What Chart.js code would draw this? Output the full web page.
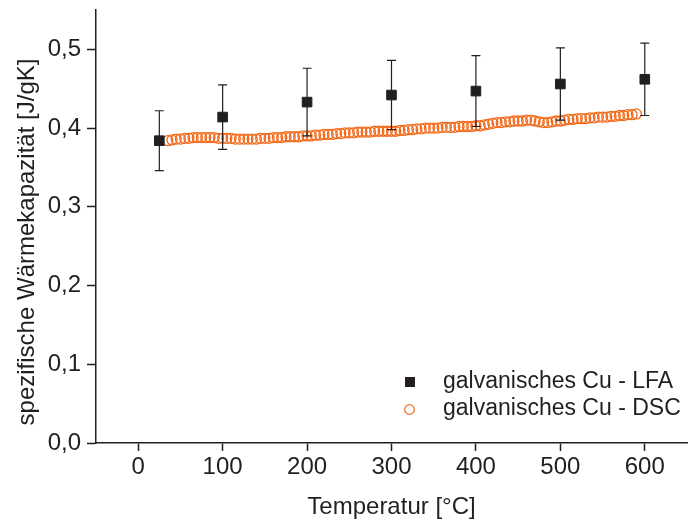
<!DOCTYPE html>
<html>
<head>
<meta charset="utf-8">
<script src="https://cdn.jsdelivr.net/npm/chart.js@4.4.1/dist/chart.umd.min.js"></script>
<style>
  html, body { margin: 0; padding: 0; background: #ffffff; }
  #wrap { width: 689px; height: 522px; position: relative; }
</style>
</head>
<body>
<div id="wrap"><canvas id="c" width="689" height="522"></canvas></div>
<script>
// LFA measurements (temperature in °C, specific heat in J/gK, error bar half-width)
const lfaTemps  = [25, 100, 200, 300, 400, 500, 600];
const lfaValues = [0.384, 0.414, 0.433, 0.442, 0.447, 0.456, 0.462];
const lfaErrors = [0.038, 0.041, 0.043, 0.044, 0.045, 0.046, 0.046];

// DSC scan
const dscTemps = [
  35, 40, 45, 50, 55, 60, 65, 70, 75, 80, 85, 90, 95, 100, 105, 110, 115, 120, 125, 130,
  135, 140, 145, 150, 155, 160, 165, 170, 175, 180, 185, 190, 195, 200, 205, 210, 215, 220, 225, 230,
  235, 240, 245, 250, 255, 260, 265, 270, 275, 280, 285, 290, 295, 300, 305, 310, 315, 320, 325, 330,
  335, 340, 345, 350, 355, 360, 365, 370, 375, 380, 385, 390, 395, 400, 405, 410, 415, 420, 425, 430,
  435, 440, 445, 450, 455, 460, 465, 470, 475, 480, 485, 490, 495, 500, 505, 510, 515, 520, 525, 530,
  535, 540, 545, 550, 555, 560, 565, 570, 575, 580, 585, 590
];
const dscValues = [
  0.384, 0.385, 0.386, 0.386, 0.387, 0.387, 0.388, 0.388, 0.388, 0.388, 0.388, 0.388, 0.387, 0.387, 0.387, 0.387, 0.386, 0.386, 0.386, 0.386,
  0.386, 0.386, 0.387, 0.387, 0.387, 0.388, 0.388, 0.388, 0.389, 0.389, 0.389, 0.389, 0.390, 0.390, 0.390, 0.391, 0.391, 0.392, 0.392, 0.392,
  0.393, 0.393, 0.394, 0.394, 0.394, 0.395, 0.395, 0.395, 0.395, 0.396, 0.396, 0.396, 0.396, 0.396, 0.396, 0.397, 0.397, 0.398, 0.398, 0.399,
  0.399, 0.400, 0.400, 0.400, 0.400, 0.401, 0.401, 0.401, 0.401, 0.402, 0.402, 0.402, 0.402, 0.403, 0.403, 0.404, 0.405, 0.406, 0.407, 0.407,
  0.408, 0.408, 0.409, 0.409, 0.409, 0.410, 0.410, 0.409, 0.408, 0.407, 0.407, 0.408, 0.409, 0.409, 0.410, 0.411, 0.411, 0.412, 0.412, 0.412,
  0.413, 0.413, 0.414, 0.414, 0.414, 0.415, 0.415, 0.416, 0.416, 0.417, 0.417, 0.418
];

const xTitle = 'Temperatur [°C]';
const yTitle = 'spezifische Wärmekapazität [J/gK]';
const lfaLabel = 'galvanisches Cu - LFA';
const dscLabel = 'galvanisches Cu - DSC';

const INK = '#231f20';
const ORANGE = '#f26a1b';
const FONT = '"Liberation Sans", Arial, Helvetica, sans-serif';

const isMultiple = (v, step) => Math.abs(v / step - Math.round(v / step)) < 1e-6;

// fixed axis box sizes, no extra label padding around the plot area
function fixBox(size) {
  return s => {
    if (s.isHorizontal()) s.height = size; else s.width = size;
    s.paddingTop = 0; s.paddingBottom = 0; s.paddingLeft = 0; s.paddingRight = 0;
  };
}

// error bars, minor ticks, axis titles and the in-plot legend
const extras = {
  id: 'extras',
  afterDatasetsDraw(chart) {
    const ctx = chart.ctx, xs = chart.scales.x, ys = chart.scales.y;
    ctx.save();
    ctx.strokeStyle = INK;
    ctx.lineWidth = 1.2;
    lfaTemps.forEach((t, i) => {
      const px = xs.getPixelForValue(t);
      const top = ys.getPixelForValue(lfaValues[i] + lfaErrors[i]);
      const bot = ys.getPixelForValue(lfaValues[i] - lfaErrors[i]);
      ctx.beginPath();
      ctx.moveTo(px, top); ctx.lineTo(px, bot);
      ctx.moveTo(px - 4.5, top); ctx.lineTo(px + 4.5, top);
      ctx.moveTo(px - 4.5, bot); ctx.lineTo(px + 4.5, bot);
      ctx.stroke();
    });
    ctx.restore();
  },
  afterDraw(chart) {
    const ctx = chart.ctx, xs = chart.scales.x, ys = chart.scales.y, a = chart.chartArea;
    ctx.save();
    // minor ticks
    ctx.strokeStyle = INK;
    ctx.lineWidth = 1.5;
    ctx.beginPath();
    xs.ticks.forEach(t => {
      if (t.label == null) {
        const px = Math.round(xs.getPixelForValue(t.value)) + 0.5;
        ctx.moveTo(px, a.bottom); ctx.lineTo(px, a.bottom + 5);
      }
    });
    ys.ticks.forEach(t => {
      if (t.label == null) {
        const py = Math.round(ys.getPixelForValue(t.value)) + 0.5;
        ctx.moveTo(a.left - 5, py); ctx.lineTo(a.left, py);
      }
    });
    ctx.stroke();

    // axis titles
    ctx.fillStyle = INK;
    ctx.font = '24px ' + FONT;
    ctx.textAlign = 'center';
    ctx.textBaseline = 'alphabetic';
    ctx.fillText(xTitle, (a.left + a.right) / 2, 514);
    ctx.save();
    ctx.translate(27, 242);
    ctx.rotate(-Math.PI / 2);
    ctx.textBaseline = 'middle';
    ctx.fillText(yTitle, 0, 0);
    ctx.restore();

    // legend
    ctx.textAlign = 'left';
    ctx.textBaseline = 'alphabetic';
    ctx.font = '23px ' + FONT;
    ctx.fillRect(405, 377, 10, 10);
    ctx.fillText(lfaLabel, 443, 388);
    ctx.strokeStyle = ORANGE;
    ctx.lineWidth = 1.2;
    ctx.beginPath();
    ctx.arc(409.5, 409.5, 4.8, 0, Math.PI * 2);
    ctx.stroke();
    ctx.fillStyle = INK;
    ctx.fillText(dscLabel, 443, 415);
    ctx.restore();
  }
};

new Chart(document.getElementById('c'), {
  type: 'scatter',
  data: {
    datasets: [
      {
        label: dscLabel,
        data: dscTemps.map((t, i) => ({ x: t, y: dscValues[i] })),
        pointStyle: 'circle',
        pointRadius: 5,
        borderWidth: 1.3,
        borderColor: ORANGE,
        backgroundColor: 'rgba(0,0,0,0)',
        order: 2
      },
      {
        label: lfaLabel,
        data: lfaTemps.map((t, i) => ({ x: t, y: lfaValues[i] })),
        pointStyle: 'rect',
        pointRadius: 6.8,
        borderWidth: 1,
        borderColor: INK,
        backgroundColor: INK,
        order: 1
      }
    ]
  },
  options: {
    responsive: false,
    animation: false,
    devicePixelRatio: 1,
    layout: { autoPadding: false, padding: { top: 10, right: 2, left: 0, bottom: 0 } },
    plugins: { legend: { display: false }, tooltip: { enabled: false } },
    scales: {
      x: {
        type: 'linear',
        min: -50,
        max: 650,
        border: { display: true, color: INK, width: 1.5 },
        grid: { drawOnChartArea: false, drawTicks: true, tickLength: 8, tickColor: INK, tickWidth: 1.5 },
        ticks: {
          stepSize: 50,
          autoSkip: false,
          maxRotation: 0,
          padding: 2,
          color: INK,
          font: { family: FONT, size: 24 },
          callback: v => isMultiple(v, 100) ? String(v) : null
        },
        afterFit: fixBox(79)
      },
      y: {
        type: 'linear',
        min: 0,
        max: 0.55,
        border: { display: true, color: INK, width: 1.5 },
        grid: { drawOnChartArea: false, drawTicks: true, tickLength: 9, tickColor: INK, tickWidth: 1.5 },
        ticks: {
          stepSize: 0.05,
          autoSkip: false,
          padding: 6,
          color: INK,
          font: { family: FONT, size: 24 },
          callback: v => isMultiple(v, 0.1) ? v.toFixed(1).replace('.', ',') : null
        },
        afterFit: fixBox(96)
      }
    }
  },
  plugins: [extras]
});
</script>
</body>
</html>
